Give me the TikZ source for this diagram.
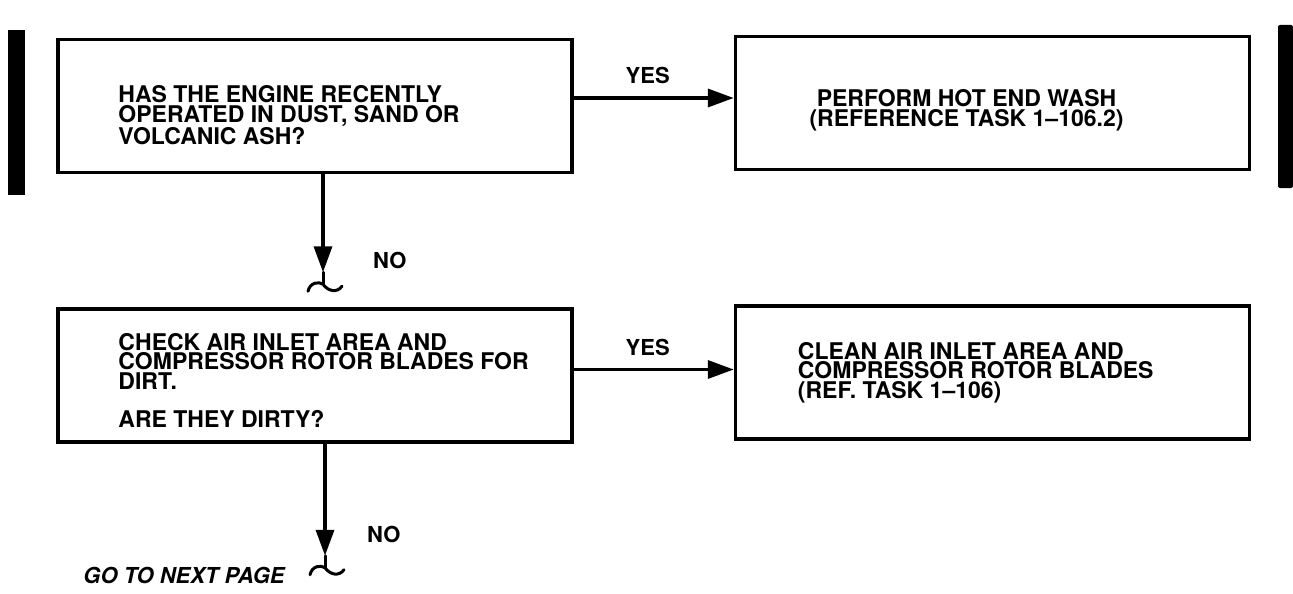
\documentclass[tikz,border=0pt]{standalone}
\usepackage{fontspec}
\setmainfont{TeX Gyre Heros}
\usetikzlibrary{arrows.meta,positioning}

% break mark under a down arrow
\newcommand{\brkmark}[1]{%
  \draw[squig] (#1) -- ++(0,12) coordinate (#1b);
  \draw[squig] ([shift={(-15,7)}]#1b) .. controls ([shift={(-13,-2)}]#1b) and ([shift={(-4,-3)}]#1b) .. (#1b)
     .. controls ([shift={(5,7)}]#1b) and ([shift={(14,9)}]#1b) .. ([shift={(19,2)}]#1b);}

\begin{document}
\begin{tikzpicture}[x=1pt,y=-1pt,
    box/.style={draw,line width=3.5pt,minimum width=514pt,minimum height=133pt,inner sep=0pt},
    boxtxt/.style={font=\bfseries\fontsize{23}{19.5}\selectfont,align=left,inner sep=0pt},
    lbl/.style={font=\bfseries\fontsize{22}{22}\selectfont,inner sep=0pt},
    flow/.style={line width=3.5pt,-{Triangle[length=26pt,width=18pt]}},
    squig/.style={line width=3pt,line cap=round}]
  \useasboundingbox (0,0) rectangle (1293,594);
  % change bars
  \fill (8,30) rectangle (25,195);
  \fill[rounded corners=2pt] (1278,25) rectangle (1293,188);

  \node[box] (q1) at (315,106) {};
  \node[box,right=160pt of q1,yshift=3pt] (a1) {};
  \node[box,below=133pt of q1] (q2) {};
  \node[box,right=160pt of q2,yshift=3pt] (a2) {};

  \node[boxtxt,below right=48pt and 62pt of q1.north west] (q1txt)
    {HAS THE ENGINE RECENTLY\\OPERATED IN DUST, SAND OR\\VOLCANIC ASH?};
  \node[boxtxt,align=center,below=55pt of a1.north,xshift=-26pt] (a1txt)
    {PERFORM HOT END WASH\\(REFERENCE TASK 1--106.2)};
  \node[boxtxt,below right=26pt and 62pt of q2.north west] (q2txt)
    {CHECK AIR INLET AREA AND\\COMPRESSOR ROTOR BLADES FOR\\DIRT.\\[19pt]ARE THEY DIRTY?};
  \node[boxtxt,below right=38pt and 64pt of a2.north west] (a2txt)
    {CLEAN AIR INLET AREA AND\\COMPRESSOR ROTOR BLADES\\(REF. TASK 1--106)};

  \draw[flow] ([yshift=8pt]q1.east) -- ([yshift=8pt]q1.east -| a1.west)
    node[lbl,midway,above=12pt,xshift=-6pt] (yes1) {YES};
  \draw[flow] ([yshift=6pt]q2.east) -- ([yshift=6pt]q2.east -| a2.west)
    node[lbl,midway,above=12pt,xshift=-6pt] (yes2) {YES};

  \coordinate (t1) at ([xshift=8pt,yshift=-98pt]q1.south);
  \draw[flow] (q1.south -| t1) -- (t1);
  \brkmark{t1}
  \node[lbl,above right=3pt and 50pt of t1] (no1) {NO};

  \coordinate (t2) at ([xshift=10pt,yshift=-112pt]q2.south);
  \draw[flow] (q2.south -| t2) -- (t2);
  \brkmark{t2}
  \node[lbl,above right=13pt and 42pt of t2] (no2) {NO};

  \node[boxtxt,font=\bfseries\itshape\fontsize{22}{22}\selectfont,
        below right=123pt and 27pt of q2.south west] (next) {GO TO NEXT PAGE};
\end{tikzpicture}
\end{document}
